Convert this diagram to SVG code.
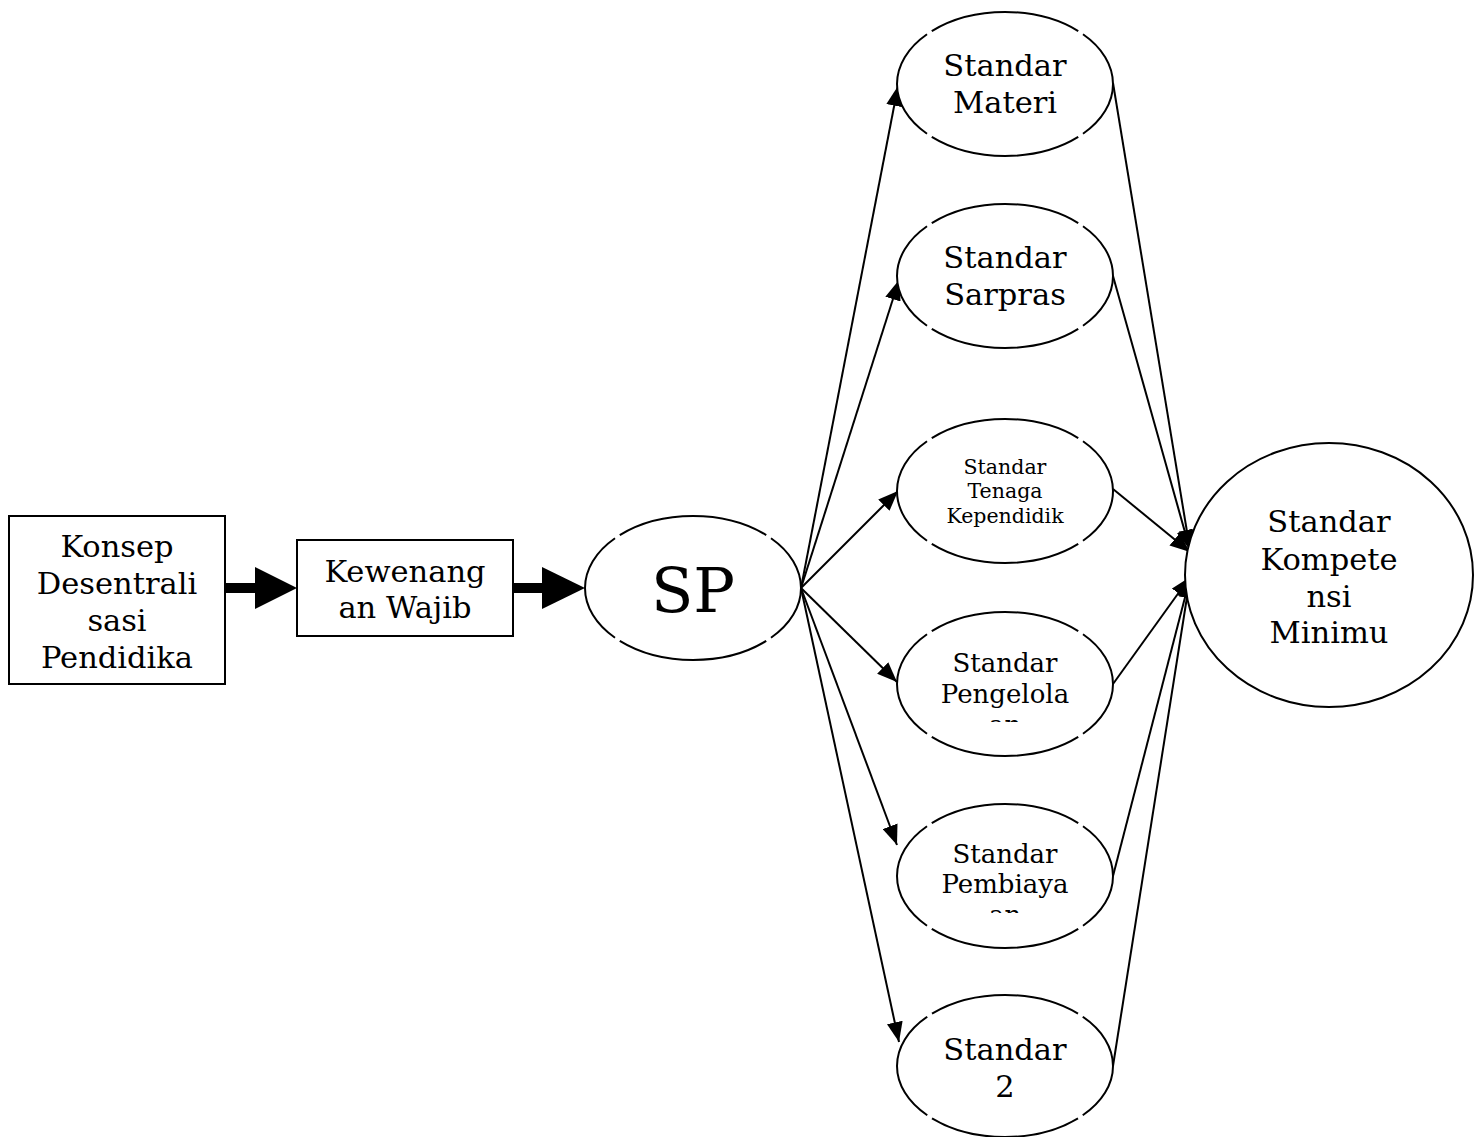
<svg xmlns="http://www.w3.org/2000/svg" width="1479" height="1137" viewBox="0 0 1479 1137">
<defs>
<style>
.t{font-family:"DejaVu Serif","Liberation Serif",serif;font-size:30.5px;fill:#000;text-anchor:middle}
.m{font-size:26px}
.s{font-size:20.5px}
.box{fill:#fff;stroke:#000;stroke-width:2}
.ell{fill:#fff;stroke:#000;stroke-width:2;stroke-dasharray:10.6 1 26.8 1 21.2 1 26.8 1 10.6}
.big{fill:#fff;stroke:#000;stroke-width:2}
.c{stroke:#000;stroke-width:2;fill:none;marker-end:url(#ah)}
.thick{stroke:#000;stroke-width:10;fill:none}
</style>
<marker id="ah" markerUnits="userSpaceOnUse" markerWidth="22" markerHeight="16" refX="20" refY="8" orient="auto">
<path d="M0,0 L20,8 L0,16 Z" fill="#000"/>
</marker>
<clipPath id="cp1"><rect x="890" y="600" width="240" height="122"/></clipPath>
<clipPath id="cp2"><rect x="890" y="795" width="240" height="118"/></clipPath>
</defs>

<g id="connectors">
<line class="thick" x1="225" y1="588" x2="258" y2="588"/>
<path d="M255,567 L297,588 L255,609 Z" fill="#000"/>
<line class="thick" x1="513" y1="588" x2="545" y2="588"/>
<path d="M542,567 L585,588 L542,609 Z" fill="#000"/>
<line class="c" x1="801" y1="588" x2="898" y2="86"/>
<line class="c" x1="801" y1="588" x2="899" y2="280"/>
<line class="c" x1="801" y1="588" x2="898" y2="491"/>
<line class="c" x1="801" y1="588" x2="897" y2="682"/>
<line class="c" x1="801" y1="588" x2="897" y2="845"/>
<line class="c" x1="801" y1="588" x2="899" y2="1042"/>
<line class="c" x1="1113" y1="83" x2="1190" y2="550"/>
<line class="c" x1="1113" y1="276" x2="1190" y2="550"/>
<line class="c" x1="1113" y1="489" x2="1190" y2="552"/>
<line class="c" x1="1113" y1="684" x2="1190" y2="577"/>
<line class="c" x1="1113" y1="876" x2="1190" y2="578"/>
<line class="c" x1="1113" y1="1066" x2="1190" y2="578"/>
</g>

<g id="konsep">
<rect class="box" x="9" y="516" width="216" height="168"/>
<text class="t" x="117" y="557">Konsep</text>
<text class="t" x="117" y="594">Desentrali</text>
<text class="t" x="117" y="631">sasi</text>
<text class="t" x="117" y="668">Pendidika</text>
</g>

<g id="kewenangan">
<rect class="box" x="297" y="540" width="216" height="96"/>
<text class="t" x="405" y="582">Kewenang</text>
<text class="t" x="405" y="618">an Wajib</text>
</g>

<g id="sp">
<ellipse class="ell" pathLength="100" cx="693" cy="588" rx="108" ry="72"/>
<text class="t" x="693" y="612" style="font-size:62px">SP</text>
</g>

<g id="materi">
<ellipse class="ell" pathLength="100" cx="1005" cy="84" rx="108" ry="72"/>
<text class="t" x="1005" y="76">Standar</text>
<text class="t" x="1005" y="113">Materi</text>
</g>

<g id="sarpras">
<ellipse class="ell" pathLength="100" cx="1005" cy="276" rx="108" ry="72"/>
<text class="t" x="1005" y="268">Standar</text>
<text class="t" x="1005" y="305">Sarpras</text>
</g>

<g id="tenaga">
<ellipse class="ell" pathLength="100" cx="1005" cy="491" rx="108" ry="72"/>
<text class="t s" x="1005" y="474">Standar</text>
<text class="t s" x="1005" y="498">Tenaga</text>
<text class="t s" x="1005" y="523">Kependidik</text>
</g>

<g id="pengelolaan">
<ellipse class="ell" pathLength="100" cx="1005" cy="684" rx="108" ry="72"/>
<text class="t m" x="1005" y="672">Standar</text>
<text class="t m" x="1005" y="703">Pengelola</text>
<text class="t m" x="1005" y="734" clip-path="url(#cp1)">an</text>
</g>

<g id="pembiayaan">
<ellipse class="ell" pathLength="100" cx="1005" cy="876" rx="108" ry="72"/>
<text class="t m" x="1005" y="863">Standar</text>
<text class="t m" x="1005" y="893">Pembiaya</text>
<text class="t m" x="1005" y="924" clip-path="url(#cp2)">an</text>
</g>

<g id="standar2">
<ellipse class="ell" pathLength="100" cx="1005" cy="1066" rx="108" ry="71"/>
<text class="t" x="1005" y="1060">Standar</text>
<text class="t" x="1005" y="1097">2</text>
</g>

<g id="kompetensi">
<ellipse class="big" cx="1329" cy="575" rx="144" ry="132"/>
<text class="t" x="1329" y="532">Standar</text>
<text class="t" x="1329" y="570">Kompete</text>
<text class="t" x="1329" y="607">nsi</text>
<text class="t" x="1329" y="643">Minimu</text>
</g>
</svg>
